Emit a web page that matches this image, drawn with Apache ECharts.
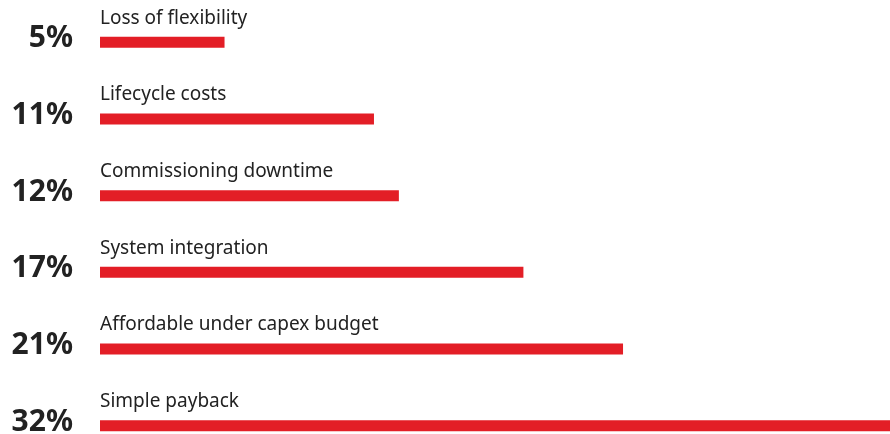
<!DOCTYPE html>
<html>
<head>
<meta charset="utf-8">
<script src="https://cdn.jsdelivr.net/npm/echarts@6/dist/echarts.min.js"></script>
<style>
html,body{margin:0;padding:0;background:#fff;}
#chart{width:890px;height:434px;}
</style>
</head>
<body>
<div id="chart"></div>
<script>
const categories = ['Loss of flexibility', 'Lifecycle costs', 'Commissioning downtime', 'System integration', 'Affordable under capex budget', 'Simple payback'];
const values = [5, 11, 12, 17, 21, 32];

const chart = echarts.init(document.getElementById('chart'), null, {renderer: 'canvas'});
chart.setOption({
  animation: false,
  grid: {left: 100, top: 4, width: 797, height: 460, containLabel: false, outerBoundsMode: 'none'},
  xAxis: {type: 'value', min: 0, max: 32, show: false},
  yAxis: {
    type: 'category', data: categories, inverse: true,
    axisLine: {show: false}, axisTick: {show: false}, splitLine: {show: false},
    axisLabel: {show: false}
  },
  series: [{
    type: 'bar', data: values, barWidth: 11,
    itemStyle: {color: '#e31e26'},
    label: {
      show: true, position: [0, -28],
      fontFamily: 'Noto Sans', fontSize: 19, color: '#222',
      formatter: p => p.name
    }
  }, {
    type: 'bar', data: values, barWidth: 11, barGap: '-100%', silent: true,
    itemStyle: {color: 'rgba(0,0,0,0)'},
    label: {
      show: true, position: [-27, 2], align: 'right', verticalAlign: 'middle',
      fontFamily: 'Noto Sans', fontSize: 30, fontWeight: 'bold', color: '#222',
      formatter: p => p.value + '%'
    }
  }]
});
</script>
</body>
</html>
